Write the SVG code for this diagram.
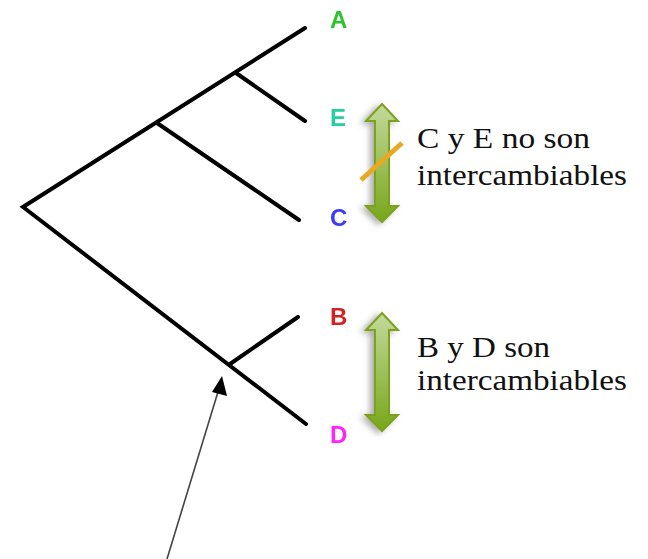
<svg xmlns="http://www.w3.org/2000/svg" width="648" height="559" viewBox="0 0 648 559">
  <defs>
    <style>
      .branch { stroke: #000; stroke-width: 4; fill: none; stroke-linecap: round; stroke-linejoin: miter; }
      .tip { font-family: "Liberation Sans", Arial, sans-serif; font-weight: bold; font-size: 24px; }
      .note { font-family: "Liberation Serif", "Times New Roman", serif; font-size: 29px; fill: #111; }
      .swap { fill: url(#greenFill); stroke: #7ba21c; stroke-width: 2; filter: url(#shadow); }
    </style>
    <linearGradient id="greenFill" x1="0" y1="0" x2="0" y2="1">
      <stop offset="0" stop-color="#c3d99c"/>
      <stop offset="1" stop-color="#78a61a"/>
    </linearGradient>
    <filter id="shadow" x="-80%" y="-20%" width="200%" height="140%">
      <feDropShadow dx="-4" dy="2" stdDeviation="3" flood-color="#666" flood-opacity="0.55"/>
    </filter>
    <filter id="soft" x="-5%" y="-5%" width="110%" height="110%">
      <feGaussianBlur stdDeviation="0.6"/>
    </filter>
  </defs>

  <!-- tree branches -->
  <g id="connectors" filter="url(#soft)">
    <path class="branch" d="M305,28 L23,207 L306,424"/>
    <path class="branch" d="M236,73 L305,121"/>
    <path class="branch" d="M157,123 L299,220"/>
    <path class="branch" d="M230,364 L298,317"/>
  </g>

  <!-- tip labels -->
  <g id="tip-A" filter="url(#soft)"><text class="tip" x="330" y="28" fill="#2cc52c">A</text></g>
  <g id="tip-E" filter="url(#soft)"><text class="tip" x="330" y="126" fill="#22d0a0">E</text></g>
  <g id="tip-C" filter="url(#soft)"><text class="tip" x="330" y="226" fill="#3a3aff">C</text></g>
  <g id="tip-B" filter="url(#soft)"><text class="tip" x="330" y="325" fill="#d42424">B</text></g>
  <g id="tip-D" filter="url(#soft)"><text class="tip" x="330" y="443" fill="#ff22ff">D</text></g>

  <!-- double arrow between E and C, struck through -->
  <g id="swap-EC">
    <path class="swap" d="M382,104 L398,121 L389,121 L389,206 L398,206 L382,222 L366,206 L375,206 L375,121 L366,121 Z"/>
    <line x1="361" y1="180" x2="402" y2="143" stroke="#e8a823" stroke-width="5"/>
  </g>

  <!-- double arrow between B and D -->
  <g id="swap-BD">
    <path class="swap" d="M382,313 L398,330 L389,330 L389,415 L398,415 L382,431 L366,415 L375,415 L375,330 L366,330 Z"/>
  </g>

  <!-- notes -->
  <g id="note-EC">
    <text class="note" x="417" y="148" textLength="173" lengthAdjust="spacingAndGlyphs">C y E no son</text>
    <text class="note" x="417" y="185" textLength="210" lengthAdjust="spacingAndGlyphs">intercambiables</text>
  </g>
  <g id="note-BD">
    <text class="note" x="417" y="357" textLength="133" lengthAdjust="spacingAndGlyphs">B y D son</text>
    <text class="note" x="417" y="390" textLength="210" lengthAdjust="spacingAndGlyphs">intercambiables</text>
  </g>

  <!-- pointer to the B/D node -->
  <g id="pointer">
    <line x1="167" y1="559" x2="221" y2="382" stroke="#444" stroke-width="1.6"/>
    <path d="M222,376 L227,396 L212,392 Z" fill="#000"/>
  </g>
</svg>
